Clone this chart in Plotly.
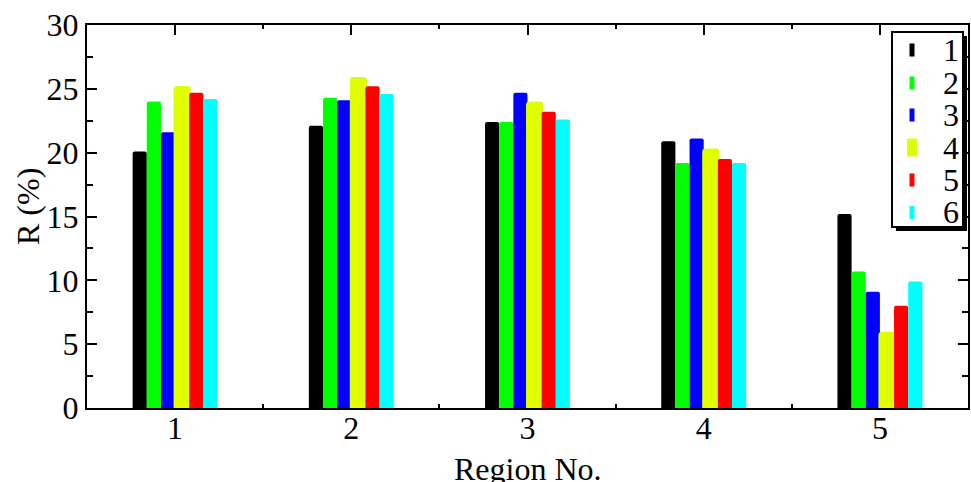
import plotly.graph_objects as go

# Region numbers on the x axis
regions = [1, 2, 3, 4, 5]
region_labels = ["1", "2", "3", "4", "5"]

# R (%) for each of the six series, per region
series_names = ["1", "2", "3", "4", "5", "6"]
r1 = [20.1, 22.1, 22.4, 20.9, 15.2]
r2 = [24.0, 24.3, 22.4, 19.2, 10.7]
r3 = [21.6, 24.1, 24.7, 21.1, 9.1]
r4 = [25.1, 25.8, 23.9, 20.2, 5.85]
r5 = [24.7, 25.2, 23.2, 19.5, 8.0]
r6 = [24.2, 24.6, 22.6, 19.2, 9.9]
series_values = [r1, r2, r3, r4, r5, r6]

colors = ["#000000", "#00FF00", "#0000FF", "#DFFF00", "#FF0000", "#00FFFF"]

FONT = "Liberation Serif"
FS = 32
W, H = 971, 482
ML, MR, MT, MB = 87, 3, 25, 74
PW, PH = W - ML - MR, H - MT - MB

fig = go.Figure()
for name, vals, col in zip(series_names, series_values, colors):
    outlined = col == "#DFFF00"
    fig.add_trace(go.Bar(
        x=regions, y=vals, name=name,
        marker=dict(color=col, cornerradius=2,
                    line=dict(color=col, width=3 if outlined else 0)),
        cliponaxis=False,
        showlegend=False,
    ))

axis_common = dict(
    showline=True, linecolor="black", linewidth=2, mirror="ticks",
    ticks="inside", tickcolor="black", tickwidth=2, ticklen=10,
    showgrid=False, zeroline=False, layer="below traces", automargin=False,
    tickfont=dict(family=FONT, size=FS, color="black"),
)

fig.update_layout(
    width=W, height=H,
    margin=dict(l=ML, r=MR, t=MT, b=MB, pad=0, autoexpand=False),
    paper_bgcolor="white", plot_bgcolor="white",
    barmode="group", bargap=0.518, bargroupgap=0,
    font=dict(family=FONT, color="black"),
    xaxis=dict(
        range=[0.5, 5.5], tickmode="array", tickvals=regions, ticktext=region_labels,
        ticklabelstandoff=-9,
        minor=dict(tickmode="array", tickvals=[1.5, 2.5, 3.5, 4.5], ticks="inside",
                   ticklen=4, tickwidth=2, tickcolor="black"),
        **axis_common,
    ),
    yaxis=dict(
        range=[0, 30], tickmode="linear", tick0=0, dtick=5,
        minor=dict(tickmode="linear", tick0=0, dtick=2.5, ticks="inside",
                   ticklen=6, tickwidth=2, tickcolor="black"),
        **axis_common,
    ),
)


def px_x(p):
    return (p - ML) / PW


def px_y(p):
    return (H - MB - p) / PH


# Axis titles
fig.add_annotation(xref="paper", yref="paper", x=0.5, y=px_y(449),
                   text="Region No.", showarrow=False, xanchor="center", yanchor="top",
                   font=dict(family=FONT, size=FS, color="black"))
fig.add_annotation(xref="paper", yref="paper", x=px_x(28), y=px_y(207),
                   text="R (%)", showarrow=False, textangle=-90,
                   xanchor="center", yanchor="middle",
                   font=dict(family=FONT, size=FS, color="black"))

# Legend: shadowed box with short vertical swatches
box_l, box_t, box_r, box_b = 892, 32, 963, 227
fig.add_shape(type="rect", xref="paper", yref="paper",
              x0=px_x(box_l + 4), x1=px_x(box_r + 4), y0=px_y(box_b + 4), y1=px_y(box_t + 4),
              fillcolor="black", line=dict(width=0))
fig.add_shape(type="rect", xref="paper", yref="paper",
              x0=px_x(box_l), x1=px_x(box_r), y0=px_y(box_b), y1=px_y(box_t),
              fillcolor="white", line=dict(color="black", width=2))

row_y = [50, 83, 115, 147.5, 180, 212.5]
sw_x = 912
for name, col, cy in zip(series_names, colors, row_y):
    big = col == "#DFFF00"
    hw = 5 if big else 2.5
    hh = 9 if big else 6.5
    fig.add_shape(type="rect", xref="paper", yref="paper",
                  x0=px_x(sw_x - hw), x1=px_x(sw_x + hw),
                  y0=px_y(cy + hh), y1=px_y(cy - hh),
                  fillcolor=col, line=dict(width=0))
    fig.add_annotation(xref="paper", yref="paper", x=px_x(961), y=px_y(cy),
                       text=name, showarrow=False, xanchor="right", yanchor="middle",
                       height=30, valign="middle",
                       font=dict(family=FONT, size=FS, color="black"))

fig.write_html("out.html")
